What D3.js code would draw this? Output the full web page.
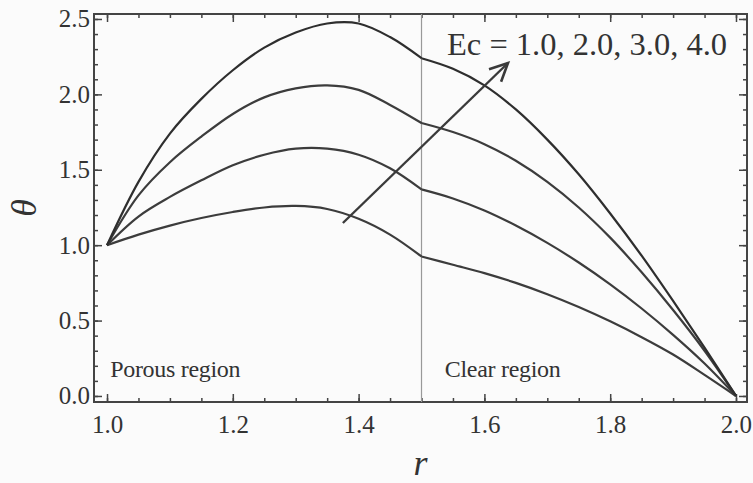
<!DOCTYPE html>
<html>
<head>
<meta charset="utf-8">
<script src="https://cdn.jsdelivr.net/npm/d3@7"></script>
<style>
  html, body { margin: 0; padding: 0; background: #fff; }
  svg { display: block; }
  text { font-family: "Liberation Serif", "Times New Roman", "DejaVu Serif", serif; fill: #333; }
</style>
</head>
<body>
<div id="chart"></div>
<script>
"use strict";

// data (theta vs r, one series per Eckert number)
var rValues = [1.00, 1.05, 1.10, 1.15, 1.20, 1.25, 1.30, 1.35, 1.40, 1.45, 1.50,
               1.55, 1.60, 1.65, 1.70, 1.75, 1.80, 1.85, 1.90, 1.95, 2.00];
var ecValues = [1.0, 2.0, 3.0, 4.0];
var thetaEc1 = [1.00, 1.07, 1.13, 1.18, 1.22, 1.25, 1.26, 1.24, 1.175, 1.07, 0.925,
                0.87, 0.815, 0.75, 0.675, 0.59, 0.495, 0.39, 0.275, 0.14, 0.00];
var thetaEc2 = [1.00, 1.19, 1.32, 1.43, 1.53, 1.60, 1.64, 1.64, 1.60, 1.51, 1.37,
                1.31, 1.23, 1.13, 1.015, 0.885, 0.74, 0.58, 0.405, 0.215, 0.00];
var thetaEc3 = [1.00, 1.33, 1.55, 1.72, 1.87, 1.98, 2.04, 2.06, 2.03, 1.93, 1.81,
                1.75, 1.67, 1.56, 1.42, 1.25, 1.05, 0.82, 0.57, 0.30, 0.00];
var thetaEc4 = [1.00, 1.42, 1.74, 1.97, 2.16, 2.31, 2.41, 2.47, 2.47, 2.38, 2.24,
                2.17, 2.06, 1.90, 1.70, 1.47, 1.21, 0.93, 0.63, 0.32, 0.00];
var interfaceR = 1.5;

var xMajor = [1.0, 1.2, 1.4, 1.6, 1.8, 2.0];
var xMinor = d3.range(20).map(function(i) { return 1.0 + i * 0.05; }).concat([2.0]);
var yMajor = [0.0, 0.5, 1.0, 1.5, 2.0, 2.5];
var yMinor = d3.range(26).map(function(i) { return i * 0.1; });

// arrow across the curves, from/to in data units
var arrowFrom = [1.375, 1.147];
var arrowTo = [1.6375, 2.208];

var width = 753, height = 483;
var plotLeft = 94, plotRight = 747, plotTop = 14, plotBottom = 402;

var svg = d3.select("#chart").append("svg")
    .attr("width", width)
    .attr("height", height);

svg.append("rect")
    .attr("width", width).attr("height", height)
    .attr("fill", "#fbfbfb");

var x = d3.scaleLinear().domain([0.9793, 2.0175]).range([plotLeft, plotRight]);
var y = d3.scaleLinear().domain([-0.04, 2.533]).range([plotBottom, plotTop]);

function fmt(d) { return d.toFixed(1); }

// axes: ticks point inward, mirrored on top and right
function tickStyle(g) {
    g.select(".domain").remove();
    g.attr("font-family", null);
    g.selectAll("line").attr("stroke", "#444").attr("stroke-width", 1.5);
}

svg.append("g").attr("transform", "translate(0," + plotBottom + ")")
    .call(d3.axisBottom(x).tickValues(xMinor).tickSize(-4).tickFormat(""))
    .call(tickStyle);
svg.append("g").attr("transform", "translate(0," + plotBottom + ")")
    .call(d3.axisBottom(x).tickValues(xMajor).tickSize(-8).tickPadding(13).tickFormat(fmt))
    .call(tickStyle)
    .selectAll("text").style("font-size", "25px").attr("fill", "#333");

svg.append("g").attr("transform", "translate(0," + plotTop + ")")
    .call(d3.axisTop(x).tickValues(xMinor).tickSize(-4).tickFormat(""))
    .call(tickStyle);
svg.append("g").attr("transform", "translate(0," + plotTop + ")")
    .call(d3.axisTop(x).tickValues(xMajor).tickSize(-8).tickFormat(""))
    .call(tickStyle);

svg.append("g").attr("transform", "translate(" + plotLeft + ",0)")
    .call(d3.axisLeft(y).tickValues(yMinor).tickSize(-4).tickFormat(""))
    .call(tickStyle);
svg.append("g").attr("transform", "translate(" + plotLeft + ",0)")
    .call(d3.axisLeft(y).tickValues(yMajor).tickSize(-8).tickPadding(4).tickFormat(fmt))
    .call(tickStyle)
    .selectAll("text").style("font-size", "25px").attr("fill", "#333");

svg.append("g").attr("transform", "translate(" + plotRight + ",0)")
    .call(d3.axisRight(y).tickValues(yMinor).tickSize(-4).tickFormat(""))
    .call(tickStyle);
svg.append("g").attr("transform", "translate(" + plotRight + ",0)")
    .call(d3.axisRight(y).tickValues(yMajor).tickSize(-8).tickFormat(""))
    .call(tickStyle);

// frame
svg.append("rect")
    .attr("x", plotLeft).attr("y", plotTop)
    .attr("width", plotRight - plotLeft).attr("height", plotBottom - plotTop)
    .attr("fill", "none")
    .attr("stroke", "#444")
    .attr("stroke-width", 2);

// porous / clear interface
svg.append("line")
    .attr("x1", x(interfaceR)).attr("x2", x(interfaceR))
    .attr("y1", plotTop).attr("y2", plotBottom)
    .attr("stroke", "#999")
    .attr("stroke-width", 1.2);

// curves: drawn as two pieces so the kink at the interface stays sharp
var line = d3.line()
    .x(function(d) { return x(d[0]); })
    .y(function(d) { return y(d[1]); })
    .curve(d3.curveCatmullRom.alpha(0.5));

var series = [thetaEc1, thetaEc2, thetaEc3, thetaEc4];
series.forEach(function(vals, i) {
    var pts = rValues.map(function(r, j) { return [r, vals[j]]; });
    var porous = pts.filter(function(p) { return p[0] <= interfaceR; });
    var clear = pts.filter(function(p) { return p[0] >= interfaceR; });
    svg.append("path")
        .attr("d", line(porous) + line(clear))
        .attr("fill", "none")
        .attr("stroke", i === 3 ? "#2e2e2e" : "#3c3c3c")
        .attr("stroke-width", 2.2)
        .attr("stroke-linejoin", "round");
});

// arrow with open head
var ax1 = x(arrowFrom[0]), ay1 = y(arrowFrom[1]);
var ax2 = x(arrowTo[0]), ay2 = y(arrowTo[1]);
var ang = Math.atan2(ay2 - ay1, ax2 - ax1);
var headLen = 20, headAng = Math.PI / 7;
svg.append("line")
    .attr("x1", ax1).attr("y1", ay1)
    .attr("x2", ax2).attr("y2", ay2)
    .attr("stroke", "#3a3a3a").attr("stroke-width", 2.4);
svg.append("path")
    .attr("d", "M" + (ax2 - headLen * Math.cos(ang - headAng)) + "," + (ay2 - headLen * Math.sin(ang - headAng)) +
               "L" + ax2 + "," + ay2 +
               "L" + (ax2 - headLen * Math.cos(ang + headAng)) + "," + (ay2 - headLen * Math.sin(ang + headAng)))
    .attr("fill", "none")
    .attr("stroke", "#3a3a3a").attr("stroke-width", 2.6)
    .attr("stroke-linejoin", "miter");

// labels
svg.append("text")
    .attr("x", 447).attr("y", 55)
    .style("font-size", "32.5px")
    .text("Ec = 1.0, 2.0, 3.0, 4.0");

svg.append("text")
    .attr("x", x(1.005)).attr("y", 377)
    .style("font-size", "24px")
    .style("letter-spacing", "-0.3px")
    .text("Porous region");

svg.append("text")
    .attr("x", x(1.537)).attr("y", 377)
    .style("font-size", "24px")
    .style("letter-spacing", "-0.3px")
    .text("Clear region");

svg.append("text")
    .attr("transform", "translate(36," + ((plotTop + plotBottom) / 2) + ") rotate(-90)")
    .attr("text-anchor", "middle")
    .style("font-size", "36px")
    .style("font-style", "italic")
    .text("\u03b8");

svg.append("text")
    .attr("x", (plotLeft + plotRight) / 2).attr("y", 475)
    .attr("text-anchor", "middle")
    .style("font-size", "36px")
    .style("font-style", "italic")
    .text("r");
</script>
</body>
</html>
